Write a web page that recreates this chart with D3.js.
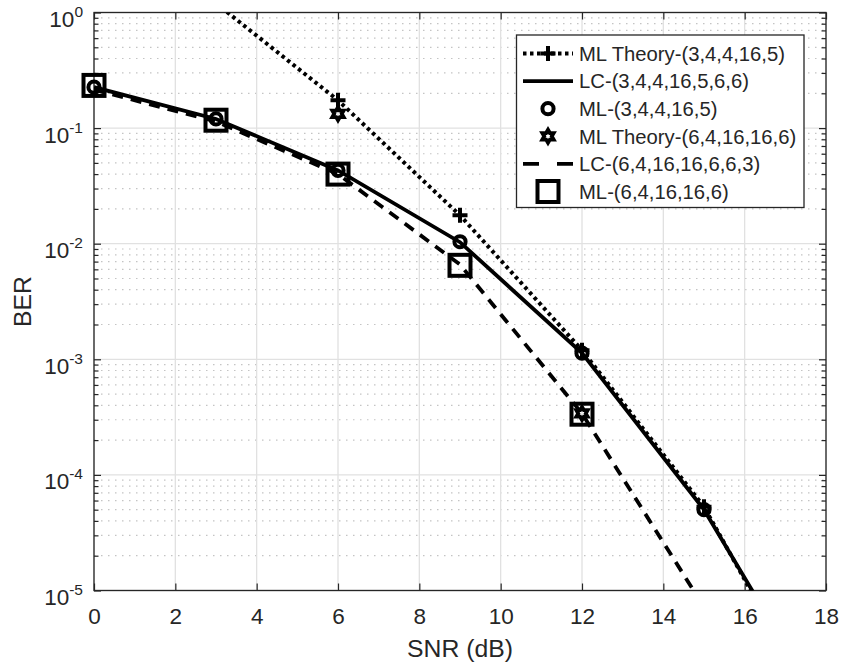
<!DOCTYPE html>
<html>
<head>
<meta charset="utf-8">
<script src="https://cdn.jsdelivr.net/npm/d3@7"></script>
<style>
  body { margin: 0; background: white; }
  text { font-family: "Liberation Sans", Arial, sans-serif; fill: #262626; }
</style>
</head>
<body>
<div id="canvas"></div>
<script>
"use strict"

/* tick values */
const snrTicks = [0, 2, 4, 6, 8, 10, 12, 14, 16, 18];
const berTicks = [1e-5, 1e-4, 1e-3, 1e-2, 1e-1, 1];
const berExponents = ["-5", "-4", "-3", "-2", "-1", "0"];

/* series */
const theoryASnr = [3, 6, 9, 12, 15, 18];
const theoryABer = [1.2, 0.174, 0.0176, 1.2e-3, 5.3e-5, 6.8e-7];

const lcASnr = [0, 3, 6, 9, 12, 15, 18];
const lcABer = [0.226, 0.12, 0.043, 0.0103, 1.13e-3, 5.0e-5, 8.5e-7];

const mlASnr = [0, 3, 6, 9, 12, 15];
const mlABer = [0.226, 0.12, 0.043, 0.0104, 1.13e-3, 5.0e-5];

const theoryBSnr = [6, 12];
const theoryBBer = [0.133, 3.4e-4];

const lcBSnr = [0, 3, 6, 9, 12, 15];
const lcBBer = [0.215, 0.114, 0.040, 0.0066, 3.4e-4, 7.2e-6];

const mlBSnr = [0, 3, 6, 9, 12];
const mlBBer = [0.234, 0.117, 0.040, 0.0065, 3.35e-4];

const legendLabels = [
  "ML Theory-(3,4,4,16,5)",
  "LC-(3,4,4,16,5,6,6)",
  "ML-(3,4,4,16,5)",
  "ML Theory-(6,4,16,16,6)",
  "LC-(6,4,16,16,6,6,3)",
  "ML-(6,4,16,16,6)"
];

/* plot box */
let plotLeft = 94, plotRight = 826, plotTop = 12.5, plotBottom = 590.5;
let ink = "#262626";

let drawing = d3.select("#canvas")
    .append("svg")
    .attr("width", 841)
    .attr("height", 670);

let x = d3.scaleLinear().domain([0, 18]).range([plotLeft, plotRight]);
let y = d3.scaleLog().domain([1e-5, 1]).range([plotBottom, plotTop]);

/* minor log positions */
let minorTicks = [];
berTicks.slice(0, -1).forEach(d => {
  for (let k = 2; k <= 9; k++) minorTicks.push(d * k);
});

/* grid */
let grid = drawing.append("g");
grid.selectAll(".minor")
  .data(minorTicks)
  .enter().append("line")
  .attr("x1", plotLeft).attr("x2", plotRight)
  .attr("y1", d => y(d)).attr("y2", d => y(d))
  .attr("stroke", "#c4c4c4")
  .attr("stroke-width", 1.2)
  .attr("stroke-dasharray", "1.5,5.5");

grid.selectAll(".majorY")
  .data(berTicks)
  .enter().append("line")
  .attr("x1", plotLeft).attr("x2", plotRight)
  .attr("y1", d => y(d)).attr("y2", d => y(d))
  .attr("stroke", "#e1e1e1")
  .attr("stroke-width", 1.3);

grid.selectAll(".majorX")
  .data(snrTicks)
  .enter().append("line")
  .attr("x1", d => x(d)).attr("x2", d => x(d))
  .attr("y1", plotTop).attr("y2", plotBottom)
  .attr("stroke", "#e1e1e1")
  .attr("stroke-width", 1.3);

/* axes */
let xAxis = drawing.append("g")
  .attr("transform", `translate(0,${plotBottom})`)
  .call(d3.axisBottom(x).tickValues(snrTicks).tickSizeInner(-7).tickSizeOuter(0).tickFormat(d3.format("d")));
xAxis.selectAll("text")
  .attr("y", 33).attr("dy", null)
  .attr("font-size", 22.5)
  .attr("fill", ink);

let xAxisTop = drawing.append("g")
  .attr("transform", `translate(0,${plotTop})`)
  .call(d3.axisTop(x).tickValues(snrTicks).tickSizeInner(-7).tickSizeOuter(0).tickFormat(""));

let yAxis = drawing.append("g")
  .attr("transform", `translate(${plotLeft},0)`)
  .call(d3.axisLeft(y).tickValues(berTicks).tickSizeInner(-7).tickSizeOuter(0).tickFormat(""));
yAxis.selectAll(".tick").each(function(d, i) {
  let t = d3.select(this).append("text")
    .attr("x", -11)
    .attr("y", 0)
    .attr("text-anchor", "end")
    .attr("font-size", 22.5)
    .attr("fill", ink);
  t.append("tspan").attr("dy", 14).text("10");
  t.append("tspan").attr("dy", -10).attr("font-size", 15.5).text(berExponents[i]);
});

let yAxisRight = drawing.append("g")
  .attr("transform", `translate(${plotRight},0)`)
  .call(d3.axisRight(y).tickValues(berTicks).tickSizeInner(-7).tickSizeOuter(0).tickFormat(""));

let yMinorLeft = drawing.append("g")
  .attr("transform", `translate(${plotLeft},0)`)
  .call(d3.axisLeft(y).tickValues(minorTicks).tickSizeInner(-4.5).tickSizeOuter(0).tickFormat(""));
let yMinorRight = drawing.append("g")
  .attr("transform", `translate(${plotRight},0)`)
  .call(d3.axisRight(y).tickValues(minorTicks).tickSizeInner(-4.5).tickSizeOuter(0).tickFormat(""));

drawing.selectAll(".domain").remove();
drawing.selectAll(".tick line").attr("stroke", ink).attr("stroke-width", 1.2);

/* box */
let frame = drawing.append("rect")
  .attr("x", plotLeft).attr("y", plotTop)
  .attr("width", plotRight - plotLeft).attr("height", plotBottom - plotTop)
  .attr("fill", "none")
  .attr("stroke", ink)
  .attr("stroke-width", 1.3);

/* axis labels */
drawing.append("text")
  .attr("x", (plotLeft + plotRight) / 2).attr("y", 657)
  .attr("text-anchor", "middle")
  .attr("font-size", 24.75)
  .text("SNR (dB)");

drawing.append("text")
  .attr("transform", `translate(31,${(plotTop + plotBottom) / 2}) rotate(-90)`)
  .attr("text-anchor", "middle")
  .attr("font-size", 24.75)
  .text("BER");

/* clip for lines */
drawing.append("clipPath").attr("id", "plotClip")
  .append("rect")
  .attr("x", plotLeft).attr("y", plotTop)
  .attr("width", plotRight - plotLeft).attr("height", plotBottom - plotTop);

let line = d3.line().x(d => x(d[0])).y(d => y(d[1]));
let pairs = (xs, ys) => xs.map((v, i) => [v, ys[i]]);
let inside = d => d[1] <= 1 && d[1] >= 1e-5;

/* marker shapes */
function plusPath(s) {
  return `M${-s},0H${s}M0,${-s}V${s}`;
}
function hexagramPath(r) {
  let pts = [];
  for (let k = 0; k < 12; k++) {
    let a = -Math.PI / 2 + k * Math.PI / 6;
    let rr = k % 2 === 0 ? r : r / Math.sqrt(3);
    pts.push([rr * Math.cos(a), rr * Math.sin(a)]);
  }
  return "M" + pts.map(p => p.join(",")).join("L") + "Z";
}

/* ML Theory-(3,4,4,16,5): dotted line, plus markers */
let theoryA = pairs(theoryASnr, theoryABer);
drawing.append("path")
  .attr("d", line(theoryA))
  .attr("clip-path", "url(#plotClip)")
  .attr("fill", "none")
  .attr("stroke", "black")
  .attr("stroke-width", 4)
  .attr("stroke-dasharray", "3.5,3.5");
drawing.selectAll(".plusA")
  .data(theoryA.filter(inside))
  .enter().append("path")
  .attr("transform", d => `translate(${x(d[0])},${y(d[1])})`)
  .attr("d", plusPath(7.5))
  .attr("stroke", "black")
  .attr("stroke-width", 4)
  .attr("fill", "none");

/* LC-(3,4,4,16,5,6,6): solid line */
drawing.append("path")
  .attr("d", line(pairs(lcASnr, lcABer)))
  .attr("clip-path", "url(#plotClip)")
  .attr("fill", "none")
  .attr("stroke", "black")
  .attr("stroke-width", 3.8);

/* ML-(3,4,4,16,5): circles */
drawing.selectAll(".circleA")
  .data(pairs(mlASnr, mlABer))
  .enter().append("circle")
  .attr("cx", d => x(d[0]))
  .attr("cy", d => y(d[1]))
  .attr("r", 5.6)
  .attr("fill", "none")
  .attr("stroke", "black")
  .attr("stroke-width", 4);

/* ML Theory-(6,4,16,16,6): hexagrams */
drawing.selectAll(".hexB")
  .data(pairs(theoryBSnr, theoryBBer))
  .enter().append("path")
  .attr("transform", d => `translate(${x(d[0])},${y(d[1])})`)
  .attr("d", hexagramPath(6.5))
  .attr("fill", "none")
  .attr("stroke", "black")
  .attr("stroke-width", 3.8)
  .attr("stroke-linejoin", "miter");

/* LC-(6,4,16,16,6,6,3): dashed line */
drawing.append("path")
  .attr("d", line(pairs(lcBSnr, lcBBer)))
  .attr("clip-path", "url(#plotClip)")
  .attr("fill", "none")
  .attr("stroke", "black")
  .attr("stroke-width", 3.8)
  .attr("stroke-dasharray", "11,8");

/* ML-(6,4,16,16,6): squares */
drawing.selectAll(".squareB")
  .data(pairs(mlBSnr, mlBBer))
  .enter().append("rect")
  .attr("x", d => x(d[0]) - 10.5)
  .attr("y", d => y(d[1]) - 10.5)
  .attr("width", 21)
  .attr("height", 21)
  .attr("fill", "none")
  .attr("stroke", "black")
  .attr("stroke-width", 4);

/* legend */
let legend = drawing.append("g");
legend.append("rect")
  .attr("x", 516.5).attr("y", 35)
  .attr("width", 287.5).attr("height", 172.5)
  .attr("fill", "white")
  .attr("stroke", ink)
  .attr("stroke-width", 1.3);

let rowY = i => 53.5 + i * 27.6;
let sx1 = 523, sx2 = 573, smid = 548;

legendLabels.forEach((label, i) => {
  legend.append("text")
    .attr("x", 579).attr("y", rowY(i) + 7.3)
    .attr("font-size", 20.25)
    .text(label);
});

/* row 0 */
legend.append("line")
  .attr("x1", sx1).attr("x2", sx2).attr("y1", rowY(0)).attr("y2", rowY(0))
  .attr("stroke", "black").attr("stroke-width", 4).attr("stroke-dasharray", "3.5,3.5");
legend.append("path")
  .attr("transform", `translate(${smid},${rowY(0)})`)
  .attr("d", plusPath(7.5))
  .attr("stroke", "black").attr("stroke-width", 4);
/* row 1 */
legend.append("line")
  .attr("x1", sx1).attr("x2", sx2).attr("y1", rowY(1)).attr("y2", rowY(1))
  .attr("stroke", "black").attr("stroke-width", 3.8);
/* row 2 */
legend.append("circle")
  .attr("cx", smid).attr("cy", rowY(2)).attr("r", 5.6)
  .attr("fill", "none").attr("stroke", "black").attr("stroke-width", 4);
/* row 3 */
legend.append("path")
  .attr("transform", `translate(${smid},${rowY(3)})`)
  .attr("d", hexagramPath(6.5))
  .attr("fill", "none").attr("stroke", "black").attr("stroke-width", 3.8);
/* row 4 */
legend.append("line")
  .attr("x1", sx1).attr("x2", sx2).attr("y1", rowY(4)).attr("y2", rowY(4))
  .attr("stroke", "black").attr("stroke-width", 3.8).attr("stroke-dasharray", "16,18");
/* row 5 */
legend.append("rect")
  .attr("x", smid - 10.5).attr("y", rowY(5) - 10.5)
  .attr("width", 21).attr("height", 21)
  .attr("fill", "none").attr("stroke", "black").attr("stroke-width", 4);
</script>
</body>
</html>
